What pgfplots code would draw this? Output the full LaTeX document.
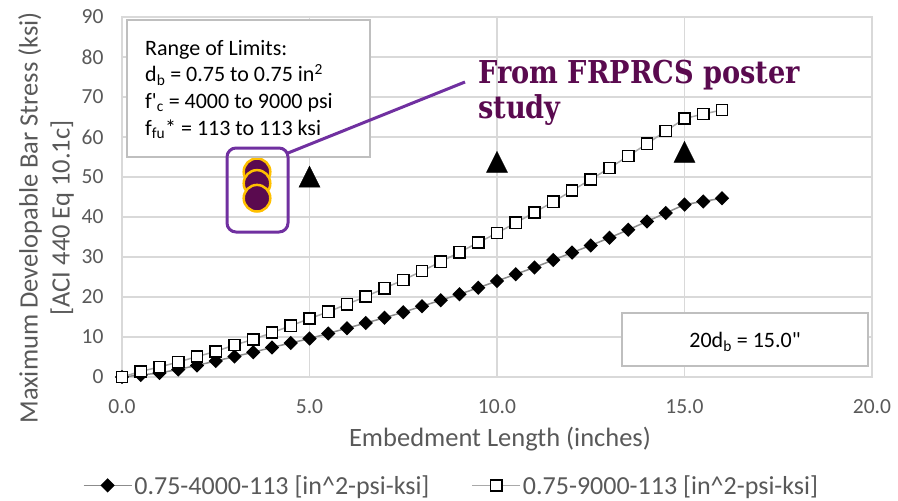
\documentclass[border=0pt]{standalone}
\usepackage{pgfplots}
\usepackage{pgfplotstable}
\pgfplotsset{compat=1.18}
\usepackage{graphicx}
\usepackage{fontspec}
\setmainfont{Carlito}
\newfontfamily\plaincarlito{Carlito}
\newfontfamily\posterfont{DejaVu Serif}

\definecolor{txtgray}{HTML}{595959}
\definecolor{gridgray}{HTML}{D9D9D9}
\definecolor{boxgray}{HTML}{BFBFBF}
\definecolor{plum}{HTML}{5A0A4F}
\definecolor{frpurple}{HTML}{7030A0}
\definecolor{gold}{HTML}{FFC000}
\definecolor{linegray}{HTML}{8C8C8C}

% triangle mark centred on its bounding box
\pgfdeclareplotmark{ctri}{%
  \pgfpathmoveto{\pgfqpoint{0pt}{\pgfplotmarksize}}%
  \pgfpathlineto{\pgfqpoint{-\pgfplotmarksize}{-\pgfplotmarksize}}%
  \pgfpathlineto{\pgfqpoint{\pgfplotmarksize}{-\pgfplotmarksize}}%
  \pgfpathclose
  \pgfusepathqfillstroke}

\newlength\posterw

% embedment length (in) vs developable stress (ksi)
\pgfplotstableread{
x y
0.0 0.0
0.5 0.5
1.0 1.0
1.5 1.9
2.0 2.9
2.5 4.0
3.0 5.1
3.5 6.2
4.0 7.4
4.5 8.5
5.0 9.6
5.5 10.9
6.0 12.2
6.5 13.5
7.0 14.8
7.5 16.2
8.0 17.7
8.5 19.2
9.0 20.7
9.5 22.3
10.0 24.0
10.5 25.7
11.0 27.4
11.5 29.25
12.0 31.1
12.5 32.9
13.0 34.8
13.5 36.8
14.0 38.9
14.5 41.0
15.0 43.1
15.5 43.9
16.0 44.7
}\lowfc

\pgfplotstableread{
x y
0.0 0.0
0.5 1.4
1.0 2.5
1.5 3.75
2.0 5.1
2.5 6.4
3.0 8.0
3.5 9.4
4.0 11.1
4.5 12.8
5.0 14.6
5.5 16.3
6.0 18.2
6.5 20.1
7.0 22.2
7.5 24.25
8.0 26.5
8.5 28.8
9.0 31.2
9.5 33.6
10.0 36.0
10.5 38.55
11.0 41.15
11.5 43.8
12.0 46.6
12.5 49.4
13.0 52.25
13.5 55.25
14.0 58.3
14.5 61.5
15.0 64.6
15.5 65.75
16.0 66.75
}\highfc

\pgfplotstableread{
x y
5 50.1
10 53.8
15 56.3
}\testpts

\pgfplotstableread{
x y
3.6 51.3
3.6 48.4
3.6 44.7
}\posterpts

\begin{document}
\settowidth{\posterw}{\posterfont\bfseries\fontsize{31.5bp}{36bp}\selectfont From FRPRCS poster}%
\pgfmathsetmacro{\pfac}{322bp/\posterw}%
\begin{tikzpicture}
\path[use as bounding box] (0bp,0bp) rectangle (898bp,-501bp);

\begin{axis}[
  at={(122bp,-377bp)}, anchor=south west,
  scale only axis, width=750bp, height=360bp,
  xmin=0, xmax=20, ymin=0, ymax=90,
  xtick={0,5,10,15,20}, ytick={0,10,...,90},
  grid=major,
  grid style={gridgray, line width=1.1bp},
  axis line style={gridgray, line width=1.1bp},
  major tick length=0pt,
  /pgf/number format/assume math mode=true,
  tick label style={font=\fontsize{21.5bp}{24bp}\selectfont, text=txtgray},
  xticklabel style={/pgf/number format/.cd, fixed, fixed zerofill, precision=1, /tikz/.cd, yshift=-19bp},
  yticklabel style={xshift=-15bp},
  xlabel={Embedment Length (inches)},
  ylabel={Maximum Developable Bar Stress (ksi)\\{}[ACI 440 Eq 10.1c]},
  every axis x label/.style={at={(axis description cs:0.504,-0.194)}, anchor=base,
    font=\fontsize{26.5bp}{32bp}\selectfont, text=txtgray},
  every axis y label/.style={at={(axis description cs:-0.1013,0.442)}, anchor=center,
    rotate=90, align=center, font=\fontsize{26.5bp}{32bp}\selectfont, text=txtgray},
  legend columns=2,
  legend style={at={(axis description cs:0.4393,-0.301)}, anchor=center, draw=none, fill=none,
    font=\fontsize{26bp}{30bp}\selectfont, text=txtgray,
    /tikz/every even column/.append style={column sep=40bp}},
  legend image code/.code={\draw[mark repeat=2,mark phase=2] plot coordinates {(0bp,0bp) (24bp,0bp) (48bp,0bp)};},
  clip=false,
]
\addplot[draw=linegray, line width=1.5bp, mark=square*, mark size=4.3bp,
  mark options={rotate=45, fill=black, draw=black, solid}] table {\lowfc};
\addlegendentry{0.75-4000-113 [in\textasciicircum 2-psi-ksi]}
\addplot[draw=linegray!75, line width=1.5bp, mark=square*, mark size=5.6bp,
  mark options={fill=white, draw=black, line width=1.6bp, solid}] table {\highfc};
\addlegendentry{0.75-9000-113 [in\textasciicircum 2-psi-ksi]}
\addplot[only marks, mark=ctri, mark size=10.5bp, mark options={fill=black, draw=black}, forget plot] table {\testpts};
\addplot[only marks, mark=*, mark size=13.3bp, mark options={fill=plum, draw=gold, line width=2.5bp}, forget plot] table {\posterpts};
\end{axis}

\begin{scope}[x=1bp, y=-1bp]
  % limits box
  \draw[boxgray, line width=1.6bp, fill=white] (127,20) rectangle (370,157);
  \begin{scope}[every node/.style={anchor=base west, inner sep=0pt, text=black,
      font=\fontsize{22bp}{26bp}\selectfont}]
    \node at (145,55) {Range of Limits:};
    \node at (145,81.7) {d\textsubscript{b} = 0.75 to 0.75 in\textsuperscript{2}};
    \node at (145,108.3) {f\textquotesingle\textsubscript{c} = 4000 to 9000 psi};
    \node at (145,135) {f\textsubscript{fu}* = 113 to 113 ksi};
  \end{scope}
  % development length box
  \draw[boxgray, line width=1.6bp, fill=white] (622,313) rectangle (868,366);
  \node[inner sep=0pt, anchor=base, font=\fontsize{22bp}{26bp}\selectfont] at (745,347.5)
    {20d\textsubscript{b} = 15.0{\plaincarlito"}};
  % poster callout
  \draw[frpurple, line width=3bp, rounded corners=9bp] (227,148) rectangle (288,232);
  \draw[frpurple, line width=3bp] (288,153) -- (465,82);
  \begin{scope}[every node/.style={anchor=base west, inner sep=0pt, text=plum, xscale=\pfac,
      font=\posterfont\bfseries\fontsize{31.5bp}{36bp}\selectfont}]
    \node at (478,83.3) {From FRPRCS poster};
    \node at (478,118.3) {study};
  \end{scope}
\end{scope}
\end{tikzpicture}
\end{document}
